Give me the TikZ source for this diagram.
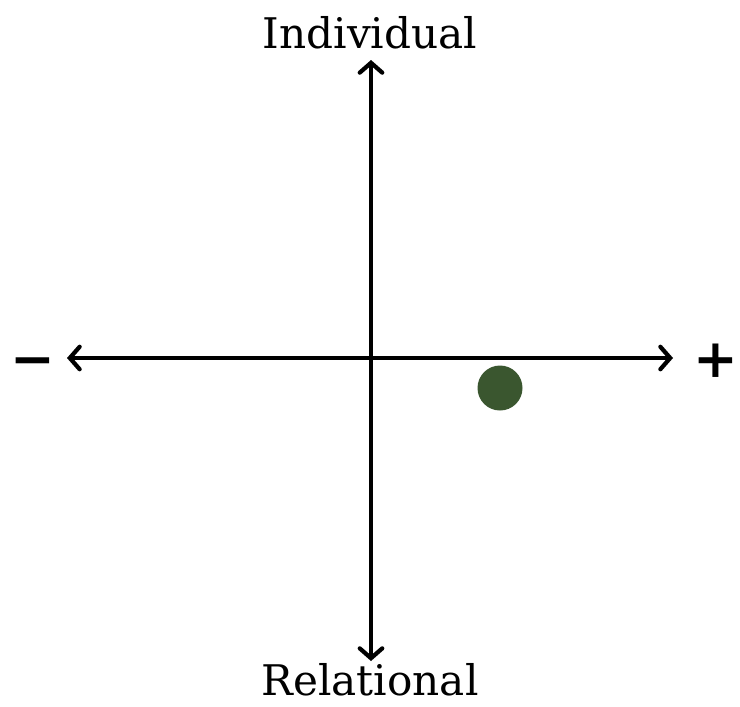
\documentclass[tikz,border=0pt]{standalone}
\usepackage{fontspec}
\setmainfont{DejaVu Serif}
\usetikzlibrary{arrows.meta}
\definecolor{dotgreen}{RGB}{58,86,47}
\tikzset{
  axislabel/.style={inner sep=0pt,font=\fontsize{30}{36}\selectfont},
  signlabel/.style={inner sep=0pt,font=\fontsize{38}{46}\selectfont\bfseries},
  axis/.style     ={{Straight Barb[length=7pt,width=16pt,line cap=round]}-{Straight Barb[length=7pt,width=16pt,line cap=round]},
                    line width=3pt},
  marker/.style   ={circle,fill=dotgreen,inner sep=0pt,minimum size=32pt}
}
\begin{document}
\begin{tikzpicture}[x=0.025cm,y=-0.025cm]
  % Canvas
  \useasboundingbox (0,0) rectangle (740,706);

  % Axis ends
  \coordinate (top) at (371,60);
  \coordinate (bottom) at (371,661);
  \coordinate (left) at (67,358);
  \coordinate (right) at (673,358);

  % Labels
  \node (indiv) at (370,33) [axislabel] {Individual};
  \node (relat) at (370,680) [axislabel] {Relational};
  \node (minus) at (33,368) [signlabel] {−};
  \node (plus) at (716,361) [signlabel] {+};

  % Axes
  \draw[axis] (top) -- (bottom);
  \draw[axis] (left) -- (right);

  % Position
  \node (pos) at (500,388) [marker] {};
\end{tikzpicture}
\end{document}
